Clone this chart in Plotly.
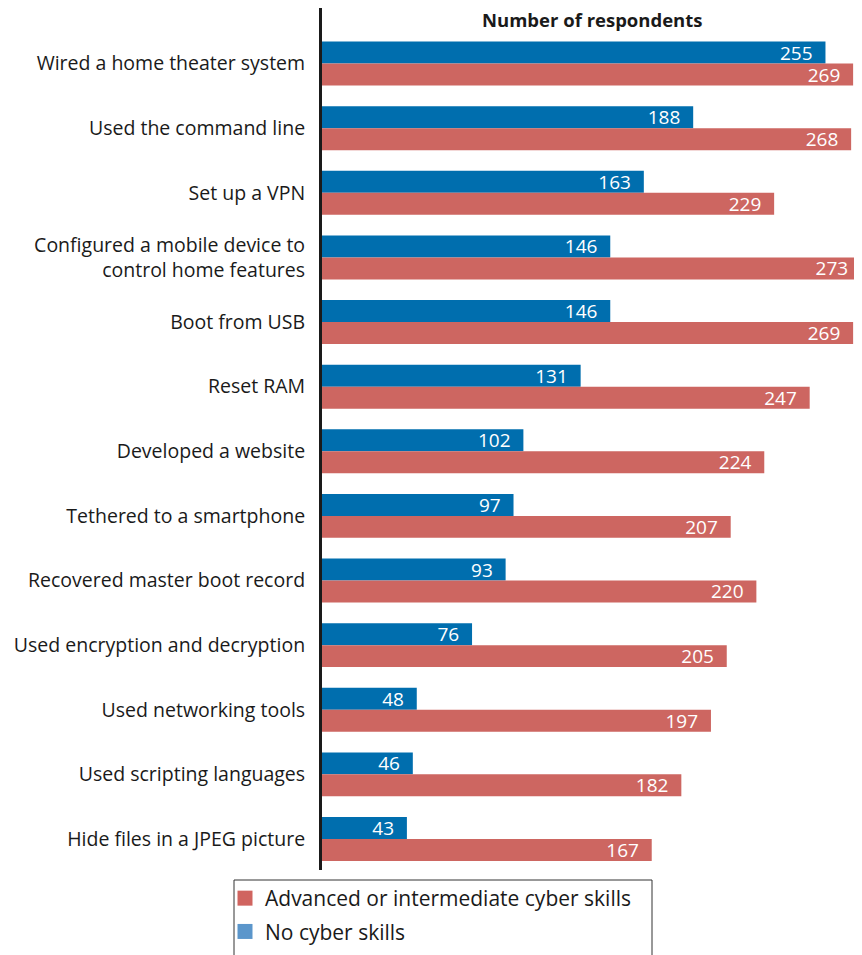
import plotly.graph_objects as go

categories = [
    "Wired a home theater system",
    "Used the command line",
    "Set up a VPN",
    "Configured a mobile device to<br>control home features",
    "Boot from USB",
    "Reset RAM",
    "Developed a website",
    "Tethered to a smartphone",
    "Recovered master boot record",
    "Used encryption and decryption",
    "Used networking tools",
    "Used scripting languages",
    "Hide files in a JPEG picture",
]
no_skills = [255, 188, 163, 146, 146, 131, 102, 97, 93, 76, 48, 46, 43]
advanced = [269, 268, 229, 273, 269, 247, 224, 207, 220, 205, 197, 182, 167]

BLUE = "#006EAE"
RED = "#CD6661"
FONT = "Open Sans"
NB = "\u00a0\u00a0"

# page offset of the figure inside the html body (default body margin)
OFF = 8
PLOT_L, PLOT_R, PLOT_T, PLOT_B = 322, 862, 8, 870


def px_x(p):
    return (p - PLOT_L) / (PLOT_R - PLOT_L)


def px_y(p):
    return (PLOT_B - p) / (PLOT_B - PLOT_T)


fig = go.Figure()
fig.add_trace(go.Bar(
    y=categories, x=no_skills, orientation="h", name="No cyber skills",
    marker=dict(color=BLUE, line=dict(width=0)),
    text=[f"{v}{NB}" for v in no_skills], textposition="inside",
    insidetextanchor="end", textfont=dict(color="white", size=19, family=FONT),
    showlegend=False, hoverinfo="skip",
))
fig.add_trace(go.Bar(
    y=categories, x=advanced, orientation="h", name="Advanced or intermediate cyber skills",
    marker=dict(color=RED, line=dict(width=0)),
    text=[f"{v}{NB}" for v in advanced], textposition="inside",
    insidetextanchor="end", textfont=dict(color="white", size=19, family=FONT),
    showlegend=False, hoverinfo="skip",
))
# legend entries
fig.add_trace(go.Scatter(y=[None], x=[None], mode="markers", name="Advanced or intermediate cyber skills",
                         marker=dict(color="#D0645F", symbol="square", size=15), legendgroup="a"))
fig.add_trace(go.Scatter(y=[None], x=[None], mode="markers", name="No cyber skills",
                         marker=dict(color="#5B96CB", symbol="square", size=15), legendgroup="b"))

fig.update_layout(
    width=862 - OFF, height=955 - OFF,
    margin=dict(l=PLOT_L - OFF, r=0, t=PLOT_T - OFF, b=955 - PLOT_B, autoexpand=False),
    paper_bgcolor="white", plot_bgcolor="white",
    barmode="group", bargap=0.32, bargroupgap=0.0,
    font=dict(family=FONT, color="#1a1a1a", size=19.5),
    uniformtext=dict(minsize=19, mode="show"),
    xaxis=dict(range=[0, 273.5], showgrid=False, zeroline=False, showticklabels=False,
               showline=False, fixedrange=True, automargin=False),
    yaxis=dict(range=[12.48, -0.86], showgrid=False, zeroline=False, automargin=False,
               showline=True, linecolor="#1a1a1a", linewidth=3,
               ticks="", ticklabelstandoff=10, tickfont=dict(size=19.5, family=FONT, color="#1a1a1a"),
               categoryorder="array", categoryarray=categories),
    legend=dict(x=px_x(225), y=px_y(878), xanchor="left", yanchor="top",
                borderwidth=0, bgcolor="rgba(0,0,0,0)",
                font=dict(size=21, family=FONT, color="#1a1a1a"),
                traceorder="grouped", itemwidth=30, tracegroupgap=3),
    shapes=[dict(type="rect", xref="paper", yref="paper",
                 x0=px_x(234), x1=px_x(652), y0=px_y(880), y1=px_y(975),
                 line=dict(color="#333333", width=1), fillcolor="rgba(0,0,0,0)", layer="above")],
    annotations=[dict(text="<b>Number of respondents</b>", x=0.5, y=px_y(20), xref="paper", yref="paper",
                      xanchor="center", yanchor="middle", showarrow=False,
                      font=dict(size=18.5, family=FONT, color="#1a1a1a"))],
    showlegend=True,
)

fig.write_html("out.html")
